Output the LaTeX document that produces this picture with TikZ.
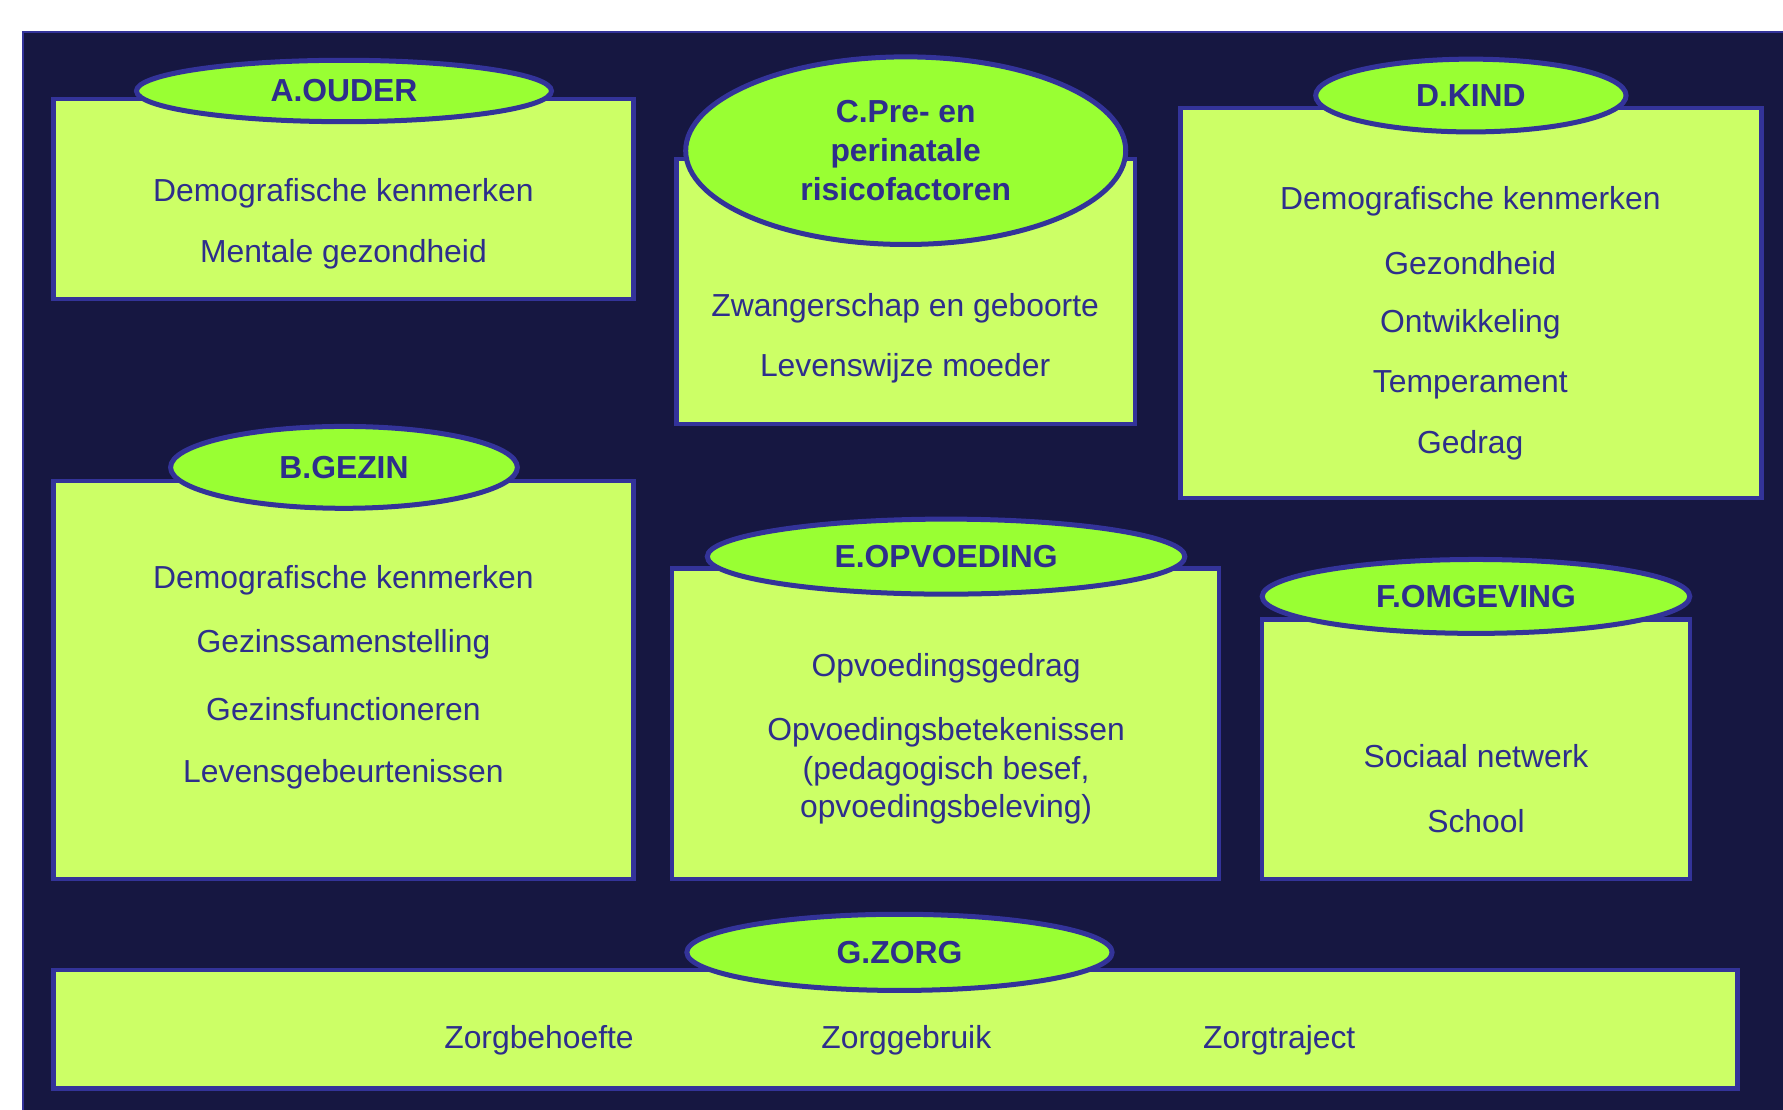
\documentclass[tikz,border=0pt]{standalone}
\usepackage{fontspec}
\setmainfont{Liberation Sans}
\usepackage{xcolor}
\usetikzlibrary{shapes.geometric,positioning}

\definecolor{achter}{HTML}{161741}
\definecolor{rand}{HTML}{333399}
\definecolor{vlak}{HTML}{CCFF66}
\definecolor{kopvlak}{HTML}{99FF33}
\definecolor{tekst}{HTML}{2E2E8C}

\begin{document}
\begin{tikzpicture}[x=0.5pt,y=-0.5pt,
  blok/.style={rectangle, draw=rand, fill=vlak, line width=2pt, inner sep=0pt},
  kop/.style={ellipse, draw=rand, fill=kopvlak, line width=2.2pt, inner sep=0pt, align=center,
    text=tekst, font=\fontsize{14}{17}\selectfont\bfseries},
  item/.style={text=tekst, align=center, yshift=-1.5pt, font=\fontsize{14}{17}\selectfont}]
\useasboundingbox (0,0) rectangle (1568,976);
\draw[fill=achter, draw=rand, line width=1pt] (20,28) rectangle (1600,1000);

% A. ouder
\node[blok, minimum width=255pt, minimum height=88pt] (ouder) at (302,175) {};
\node[kop, minimum width=182.5pt, minimum height=27pt] (kouder) at (302.5,80) {A.OUDER};
\node[item] (a1) at (302,167) {Demografische kenmerken};
\node[item] (a2) at (302,221) {Mentale gezondheid};

% C. pre- en perinataal
\node[blok, minimum width=201.5pt, minimum height=116.5pt] (peri) at (796.5,256.5) {};
\node[kop, minimum width=193.5pt, minimum height=82.5pt] (kperi) at (796.5,132.5) {C.Pre- en\\perinatale\\risicofactoren};
\node[item] (c1) at (796,268) {Zwangerschap en geboorte};
\node[item] (c2) at (796,321) {Levenswijze moeder};

% D. kind
\node[blok, minimum width=255.5pt, minimum height=171.5pt] (kind) at (1293.5,266.5) {};
\node[kop, minimum width=136.5pt, minimum height=32pt] (kkind) at (1293.5,84) {D.KIND};
\node[item] (d1) at (1293,174) {Demografische kenmerken};
\node[item] (d2) at (1293,228) {Gezondheid};
\node[item] (d3) at (1293,282) {Ontwikkeling};
\node[item] (d4) at (1293,335) {Temperament};
\node[item] (d5) at (1293,389) {Gedrag};

% B. gezin
\node[blok, minimum width=255pt, minimum height=175pt] (gezin) at (302,598) {};
\node[kop, minimum width=152.5pt, minimum height=36pt] (kgezin) at (302.5,411) {B.GEZIN};
\node[item] (b1) at (302,507) {Demografische kenmerken};
\node[item] (b2) at (302,564) {Gezinssamenstelling};
\node[item] (b3) at (302,621) {Gezinsfunctioneren};
\node[item] (b4) at (302,678) {Levensgebeurtenissen};

% E. opvoeding
\node[blok, minimum width=240.5pt, minimum height=136.5pt] (opv) at (831.5,636.5) {};
\node[kop, minimum width=210pt, minimum height=33pt] (kopv) at (832,489.5) {E.OPVOEDING};
\node[item] (e1) at (832,585) {Opvoedingsgedrag};
\node[item] (e2) at (832,675) {Opvoedingsbetekenissen\\(pedagogisch besef,\\opvoedingsbeleving)};

% F. omgeving
\node[blok, minimum width=188pt, minimum height=114pt] (omg) at (1298,659) {};
\node[kop, minimum width=188pt, minimum height=32.5pt] (komg) at (1298,524.5) {F.OMGEVING};
\node[item] (f1) at (1298,662) {Sociaal netwerk};
\node[item] (f2) at (1298,719) {School};

% G. zorg
\node[blok, minimum width=740.5pt, minimum height=52pt] (zorg) at (787.5,905) {};
\node[kop, minimum width=187pt, minimum height=33.5pt] (kzorg) at (791,837.5) {G.ZORG};
\node[item] (g1) at (474,912) {Zorgbehoefte};
\node[item] (g2) at (797,912) {Zorggebruik};
\node[item] (g3) at (1125,912) {Zorgtraject};
\end{tikzpicture}
\end{document}
